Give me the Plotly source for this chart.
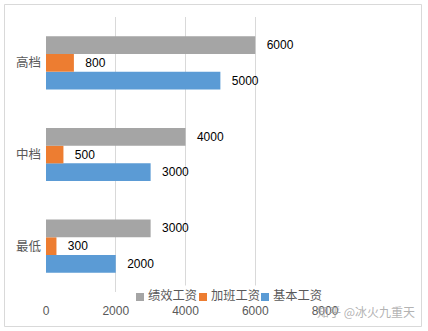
import plotly.graph_objects as go

categories = ["最低", "中档", "高档"]
base_pay = [2000, 3000, 5000]
overtime_pay = [300, 500, 800]
perf_pay = [3000, 4000, 6000]
x_ticks = [0, 2000, 4000, 6000, 8000]

W, H = 428, 331
L, R, T, B = 46, 103, 17, 39
pw, ph = W - L - R, H - T - B

def px(x):
    return (x - L) / pw

def py(y):
    return 1 - (y - T) / ph

fig = go.Figure()
series = [
    ("基本工资", base_pay, "#5B9BD5"),
    ("加班工资", overtime_pay, "#ED7D31"),
    ("绩效工资", perf_pay, "#A5A5A5"),
]
for name, vals, col in series:
    fig.add_trace(go.Bar(
        y=categories, x=vals, name=name, orientation="h",
        marker=dict(color=col, line=dict(width=0)),
        text=["\u2002\u2009" + str(v) for v in vals], textposition="outside",
        textfont=dict(family="Liberation Sans", size=12, color="#000000"),
        cliponaxis=False, showlegend=False,
    ))

shapes = [dict(type="rect", xref="paper", yref="paper",
               x0=px(4.5), x1=px(421.5), y0=py(326.5), y1=py(4.5),
               line=dict(color="#D9D9D9", width=1), layer="below")]
annotations = []

# legend (order as in the reference: 绩效工资, 加班工资, 基本工资)
legend_items = [("绩效工资", "#A5A5A5", 136), ("加班工资", "#ED7D31", 199), ("基本工资", "#5B9BD5", 261)]
for name, col, sx in legend_items:
    shapes.append(dict(type="rect", xref="paper", yref="paper",
                       x0=px(sx), x1=px(sx + 8), y0=py(301), y1=py(293),
                       fillcolor=col, line=dict(width=0), layer="above"))
    annotations.append(dict(text=name, xref="paper", yref="paper",
                            x=px(sx + 11), y=py(295), xanchor="left", yanchor="middle",
                            showarrow=False, bgcolor="white", borderpad=0,
                            font=dict(family="Noto Sans CJK SC", size=12.25, color="#595959")))

annotations.append(dict(text="知乎 @冰火九重天", xref="paper", yref="paper",
                        x=px(417), y=py(311), xanchor="right", yanchor="middle",
                        showarrow=False,
                        font=dict(family="Noto Sans CJK SC", size=12, color="rgba(165,165,165,0.85)")))

fig.update_layout(
    width=W, height=H,
    margin=dict(l=L, r=R, t=T, b=B),
    paper_bgcolor="white", plot_bgcolor="white",
    barmode="group", bargap=0.42, bargroupgap=0,
    xaxis=dict(range=[0, 8000], tickvals=x_ticks, showgrid=True,
               gridcolor="#D9D9D9", gridwidth=1, zeroline=False,
               showline=False, ticks="",
               tickfont=dict(family="Liberation Sans", size=12, color="#595959"),
               ticklabelstandoff=10),
    yaxis=dict(categoryorder="array", categoryarray=categories,
               showgrid=False, zeroline=False, showline=False, ticks="",
               tickfont=dict(family="Noto Sans CJK SC", size=12.5, color="#595959"),
               ticklabelstandoff=4),
    showlegend=False,
    shapes=shapes,
    annotations=annotations,
)

fig.write_html("out.html")
